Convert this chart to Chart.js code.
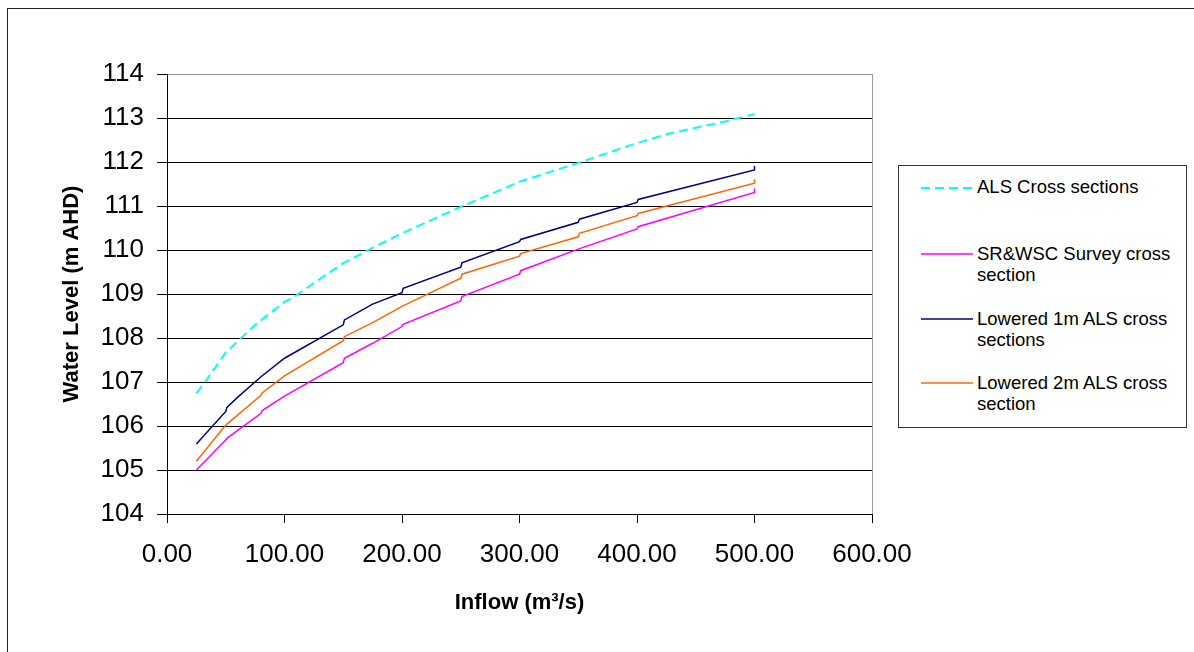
<!DOCTYPE html>
<html>
<head>
<meta charset="utf-8">
<script src="https://cdn.jsdelivr.net/npm/chart.js@4/dist/chart.umd.min.js"></script>
<style>
  html, body { margin:0; padding:0; background:#fff; overflow:hidden; }
  body { width:1194px; height:652px; position:relative; font-family:"Liberation Sans", Arial, sans-serif; }
  #frame { position:absolute; left:7px; top:8px; width:1400px; height:900px; border-left:1px solid #222; border-top:1px solid #222; box-sizing:border-box; }
  #wrap { position:absolute; left:0; top:0; width:1194px; height:652px; }
  #legend { position:absolute; left:898px; top:165px; width:289px; height:263px; border:1px solid #333; box-sizing:border-box; background:#fff; }
  .item { position:absolute; left:0; width:289px; }
  .item svg { position:absolute; left:22px; }
  .item .txt { position:absolute; left:78px; font-size:18.5px; line-height:21px; color:#000; white-space:nowrap; }
</style>
</head>
<body>
<div id="frame"></div>
<div id="wrap"><canvas id="c" width="1194" height="652"></canvas></div>
<div id="legend"></div>
<script>
// ---- Data ----
const seriesNames = [
  "ALS Cross sections",
  "SR&WSC Survey cross section",
  "Lowered 1m ALS cross sections",
  "Lowered 2m ALS cross section"
];
const legendLines = [
  ["ALS Cross sections"],
  ["SR&WSC Survey cross", "section"],
  ["Lowered 1m ALS cross", "sections"],
  ["Lowered 2m ALS cross", "section"]
];

const alsX = [25, 34, 50, 75, 92, 100, 108, 125, 150, 175, 200, 250, 300, 350, 400, 425, 450, 475, 500];
const alsY = [106.74, 107.06, 107.67, 108.30, 108.65, 108.82, 108.93, 109.25, 109.70, 110.05, 110.38, 110.98, 111.55, 111.98, 112.43, 112.63, 112.78, 112.92, 113.09];

const surveyX = [25, 50, 51, 80, 81, 100, 150, 151, 175, 200, 201, 250, 251, 300, 301, 350, 400, 401, 500, 500];
const surveyY = [105.00, 105.68, 105.72, 106.29, 106.35, 106.68, 107.44, 107.54, 107.88, 108.26, 108.31, 108.84, 108.94, 109.45, 109.53, 110.02, 110.48, 110.53, 111.31, 111.40];

const low1X = [25, 50, 51, 60, 80, 100, 150, 151, 175, 200, 201, 250, 251, 300, 301, 350, 351, 400, 401, 500, 500];
const low1Y = [105.59, 106.33, 106.42, 106.65, 107.12, 107.54, 108.30, 108.41, 108.77, 109.03, 109.13, 109.61, 109.71, 110.19, 110.24, 110.63, 110.70, 111.08, 111.15, 111.82, 111.91];

const low2X = [25, 50, 80, 81, 100, 150, 151, 175, 200, 250, 251, 300, 301, 350, 351, 400, 401, 500, 500];
const low2Y = [105.20, 106.02, 106.70, 106.75, 107.14, 107.94, 108.03, 108.35, 108.72, 109.36, 109.45, 109.86, 109.92, 110.30, 110.38, 110.78, 110.83, 111.52, 111.61];

const xTicks = [0, 100, 200, 300, 400, 500, 600];
const yTicks = [104, 105, 106, 107, 108, 109, 110, 111, 112, 113, 114];

const colors = ["#00FFFF", "#FF00FF", "#000080", "#FF6600"];
const dashes = [[9, 5], [], [], []];
const widths = [2, 1.5, 1.5, 1.5];

function pts(xs, ys) { return xs.map((x, i) => ({x: x, y: ys[i]})); }
const allX = [alsX, surveyX, low1X, low2X];
const allY = [alsY, surveyY, low1Y, low2Y];

const datasets = seriesNames.map((name, i) => ({
  label: name,
  data: pts(allX[i], allY[i]),
  borderColor: colors[i],
  backgroundColor: colors[i],
  borderWidth: widths[i],
  borderDash: dashes[i],
  pointRadius: 0,
  pointHoverRadius: 0,
  showLine: true,
  tension: 0,
  fill: false
}));

const font = "'Liberation Sans', Arial, sans-serif";

new Chart(document.getElementById('c'), {
  type: 'scatter',
  data: { datasets: datasets },
  options: {
    responsive: false,
    animation: false,
    events: [],
    layout: { padding: { left: 0, top: 74, right: 322, bottom: 0 } },
    plugins: { legend: { display: false }, tooltip: { enabled: false } },
    scales: {
      x: {
        type: 'linear',
        min: xTicks[0], max: xTicks[xTicks.length - 1],
        afterFit: s => { s.height = 138; },
        afterBuildTicks: s => { s.ticks = xTicks.map(v => ({value: v})); },
        ticks: {
          color: '#000', padding: 16, maxRotation: 0, autoSkip: false,
          font: { family: font, size: 26 },
          callback: v => Number(v).toFixed(2)
        },
        grid: {
          drawOnChartArea: true,
          color: ctx => (ctx.tick && ctx.tick.value === 600) ? '#9a9a9a' : 'rgba(0,0,0,0)',
          tickColor: '#000', tickLength: 9, lineWidth: 1
        },
        border: { color: '#000', width: 1 },
        title: {
          display: true, text: 'Inflow (m³/s)', color: '#000',
          font: { family: font, size: 22, weight: 'bold' },
          padding: { top: 0, bottom: 36 }
        }
      },
      y: {
        type: 'linear',
        min: yTicks[0], max: yTicks[yTicks.length - 1],
        afterFit: s => { s.width = 167; },
        afterBuildTicks: s => { s.ticks = yTicks.map(v => ({value: v})); },
        ticks: {
          color: '#000', padding: 13, autoSkip: false,
          font: { family: font, size: 26 },
          callback: v => String(v)
        },
        grid: {
          color: ctx => (ctx.tick && ctx.tick.value === 114) ? '#9a9a9a' : '#000',
          tickColor: '#000', tickLength: 10, lineWidth: 1
        },
        border: { color: '#000', width: 1 },
        title: {
          display: true, text: 'Water Level (m AHD)', color: '#000',
          font: { family: font, size: 22, weight: 'bold' },
          padding: { top: 59, bottom: 0 }
        }
      }
    }
  }
});

// ---- HTML legend built from the series ----
const legendTops = [175.5, 242.7, 307.8, 372.2];
const sampleY = [188.3, 254, 319.3, 383.3];
const lg = document.getElementById('legend');
seriesNames.forEach((name, i) => {
  const it = document.createElement('div');
  it.className = 'item';
  it.style.top = '0px';
  const sy = sampleY[i] - 166;
  const svgNS = 'http://www.w3.org/2000/svg';
  const svg = document.createElementNS(svgNS, 'svg');
  svg.setAttribute('width', '52'); svg.setAttribute('height', '6');
  svg.style.top = (sy - 3) + 'px';
  const ln = document.createElementNS(svgNS, 'line');
  ln.setAttribute('x1', '0'); ln.setAttribute('x2', '52');
  ln.setAttribute('y1', '3'); ln.setAttribute('y2', '3');
  ln.setAttribute('stroke', colors[i]);
  ln.setAttribute('stroke-width', String(widths[i]));
  if (dashes[i].length) ln.setAttribute('stroke-dasharray', dashes[i].join(' '));
  svg.appendChild(ln);
  it.appendChild(svg);
  const tx = document.createElement('div');
  tx.className = 'txt';
  tx.style.top = (legendTops[i] - 166) + 'px';
  legendLines[i].forEach((l, k) => {
    if (k) tx.appendChild(document.createElement('br'));
    tx.appendChild(document.createTextNode(l));
  });
  it.appendChild(tx);
  lg.appendChild(it);
});
</script>
</body>
</html>
